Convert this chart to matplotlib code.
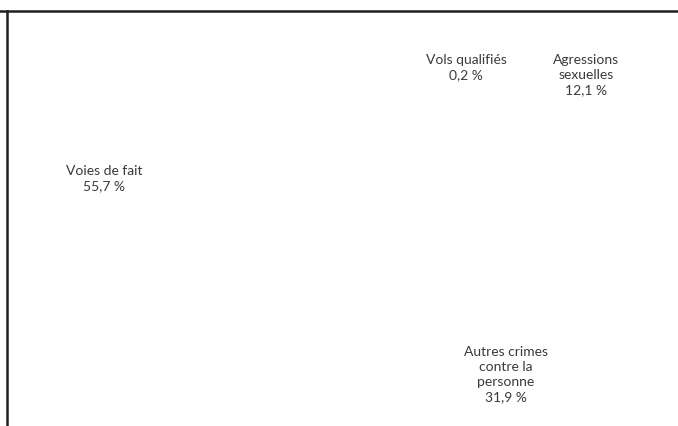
"""Crimes contre la personne : répartition par type (pie with white slices)."""

import matplotlib
matplotlib.use("Agg")
import matplotlib.pyplot as plt
from matplotlib.lines import Line2D

# --- Data ---
categories = ["Vols qualifiés", "Agressions\nsexuelles",
              "Autres crimes\ncontre la\npersonne", "Voies de fait"]
shares = [0.2, 12.1, 31.9, 55.7]

# label centres in figure pixels (layout only)
label_pos = [(466, 68), (586, 75), (506, 375), (104, 179)]

W, H = 678, 427
INK = "#231f20"
TXT = "#3a3a3a"

fig = plt.figure(figsize=(W / 100, H / 100), dpi=100)
fig.patch.set_facecolor("white")

# pie itself (white on white, as in the source)
ax = fig.add_axes([0.05, -0.3, 1.1, 1.25])
ax.pie(shares, startangle=90, counterclock=False,
       colors=["white"] * len(shares),
       wedgeprops=dict(edgecolor="white", linewidth=0))
ax.set_aspect("equal")
ax.axis("off")

# frame of the chart area (top and left edges visible in the crop)
fig.add_artist(Line2D([0, 1], [1 - 12 / H, 1 - 12 / H],
                      transform=fig.transFigure, color=INK, lw=1.8))
fig.add_artist(Line2D([7 / W, 7 / W], [0, 1 - 12 / H],
                      transform=fig.transFigure, color=INK, lw=1.8))

for name, val, (px, py) in zip(categories, shares, label_pos):
    txt = f"{name}\n{val:.1f} %".replace(".", ",")
    fig.text(px / W, 1 - py / H, txt, ha="center", va="center",
             fontsize=10, family="Lato", color=TXT, linespacing=1.3)

fig.savefig("out.png", dpi=100)
